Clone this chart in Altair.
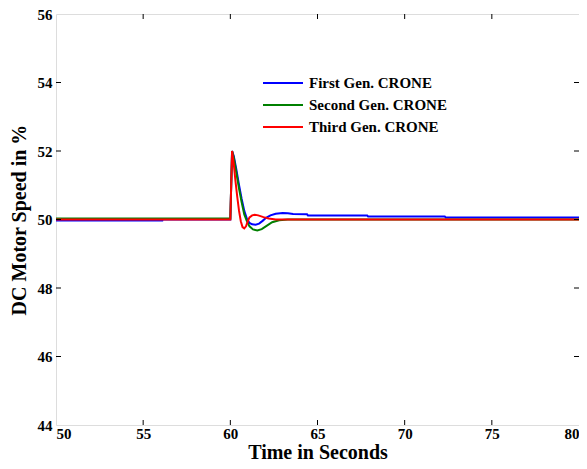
import altair as alt
import pandas as pd

series_names = ["First Gen. CRONE", "Second Gen. CRONE", "Third Gen. CRONE"]
series_colors = ["#0000FF", "#008000", "#FF0000"]

blue_t = [50, 56.1, 56.12, 60.0, 60.1, 60.2, 60.35, 60.5, 60.65, 60.8, 60.95, 61.1, 61.25,
          61.45, 61.65, 61.85, 62.05, 62.3, 62.6, 63.0, 63.3, 63.6, 64.4, 64.45, 67.85, 67.9,
          72.3, 72.35, 80]
blue_v = [49.97, 49.97, 50.0, 50.0, 52.0, 51.85, 51.45, 51.0, 50.6, 50.25, 50.02, 49.9, 49.86,
          49.85, 49.88, 49.96, 50.05, 50.12, 50.17, 50.19, 50.18, 50.16, 50.15, 50.12, 50.12, 50.09,
          50.09, 50.06, 50.06]

green_t = [50, 60.0, 60.1, 60.2, 60.35, 60.5, 60.65, 60.8, 60.95, 61.1, 61.3, 61.55, 61.8,
           62.1, 62.4, 62.8, 63.3, 80]
green_v = [50.03, 50.03, 52.0, 51.8, 51.35, 50.9, 50.5, 50.15, 49.95, 49.8, 49.71, 49.68, 49.72,
           49.82, 49.92, 49.98, 50.0, 50.0]

red_t = [50, 60.0, 60.1, 60.2, 60.3, 60.4, 60.5, 60.6, 60.7, 60.8, 60.9, 61.0, 61.1, 61.25,
         61.4, 61.6, 61.9, 62.2, 62.6, 80]
red_v = [50.0, 50.0, 52.0, 51.6, 51.1, 50.65, 50.25, 49.95, 49.78, 49.74, 49.8, 49.95, 50.06, 50.12,
         50.14, 50.12, 50.07, 50.03, 50.0, 50.0]

x_ticks = [50, 55, 60, 65, 70, 75, 80]
y_ticks = [44, 46, 48, 50, 52, 54, 56]

rows = []
for name, ts, vs in zip(series_names, [blue_t, green_t, red_t], [blue_v, green_v, red_v]):
    for i, (t, v) in enumerate(zip(ts, vs)):
        rows.append({"series": name, "t": t, "v": v, "order": i})
df = pd.DataFrame(rows)

FONT = "Liberation Serif"
W, H = 523, 411

xscale = alt.Scale(domain=[50, 80], nice=False, zero=False)
yscale = alt.Scale(domain=[44, 56], nice=False, zero=False)

lines = alt.Chart(df).mark_line(strokeWidth=2, clip=True).encode(
    x=alt.X("t:Q", scale=xscale,
            axis=alt.Axis(title="Time in Seconds", values=x_ticks, grid=False, ticks=False,
                          labelFont=FONT, labelFontWeight="bold", labelFontSize=15,
                          labelColor="black", labelPadding=1,
                          titleFont=FONT, titleFontWeight="bold", titleFontSize=20,
                          titleColor="black", titlePadding=1, domain=False)),
    y=alt.Y("v:Q", scale=yscale,
            axis=alt.Axis(title="DC Motor Speed in %", values=y_ticks, grid=False, ticks=False,
                          labelFont=FONT, labelFontWeight="bold", labelFontSize=15,
                          labelColor="black", labelPadding=4,
                          titleFont=FONT, titleFontWeight="bold", titleFontSize=20,
                          titleColor="black", titlePadding=8, domain=False)),
    color=alt.Color("series:N", sort=series_names,
                    scale=alt.Scale(domain=series_names, range=series_colors),
                    legend=alt.Legend(title=None, orient="none", legendX=206, legendY=58,
                                      symbolType="M-1,0H3", symbolSize=400, symbolStrokeWidth=2,
                                      labelFont=FONT, labelFontWeight="bold", labelFontSize=15,
                                      labelColor="black", rowPadding=3, labelOffset=25)),
    detail="series:N",
    order="order:Q",
)

xt = pd.DataFrame({"t": x_ticks[1:-1]})
yt = pd.DataFrame({"v": y_ticks[1:-1]})
xticks_b = alt.Chart(xt).mark_rule(color="black", strokeWidth=1).encode(
    x="t:Q", y=alt.value(H), y2=alt.value(H - 5))
xticks_t = alt.Chart(xt).mark_rule(color="black", strokeWidth=1).encode(
    x="t:Q", y=alt.value(0), y2=alt.value(5))
yticks_l = alt.Chart(yt).mark_rule(color="black", strokeWidth=1).encode(
    y="v:Q", x=alt.value(0), x2=alt.value(5))
yticks_r = alt.Chart(yt).mark_rule(color="black", strokeWidth=1).encode(
    y="v:Q", x=alt.value(W), x2=alt.value(W - 5))

chart = alt.layer(lines, xticks_b, xticks_t, yticks_l, yticks_r).properties(
    width=W, height=H,
    padding={"left": 48, "top": 6, "right": 0, "bottom": 36},
    autosize=alt.AutoSizeParams(type="none"),
).configure_view(stroke="black", strokeWidth=1.5).configure(background="white")

chart.save("out.html", embed_options={"renderer": "svg", "actions": False})
